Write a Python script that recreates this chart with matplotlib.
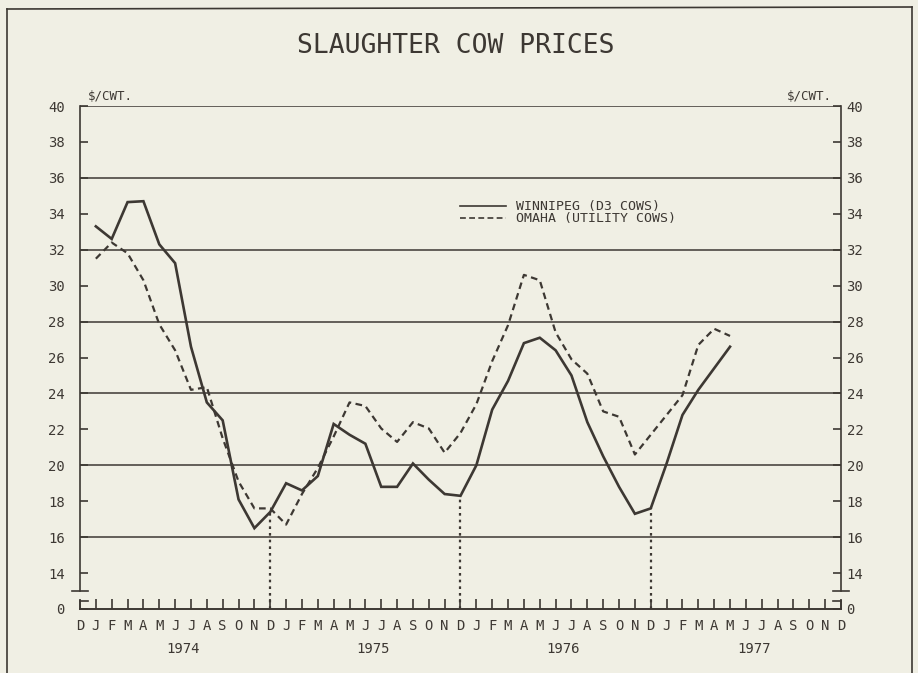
import numpy as np
import matplotlib.pyplot as plt
from matplotlib.lines import Line2D

# months from Dec 1973 (index 0) to Dec 1977 (index 48)
month_labels = list("D" + "JFMAMJJASOND" * 4)
years = ["1974", "1975", "1976", "1977"]

# both series start Jan 1974 (index 1) and end May 1977 (index 41)
winnipeg = [33.3, 32.6, 34.65, 34.7, 32.3, 31.25, 26.6, 23.5, 22.5, 18.1, 16.5, 17.4,
            19.0, 18.6, 19.4, 22.3, 21.7, 21.2, 18.8, 18.8, 20.1, 19.2, 18.4, 18.3,
            20.0, 23.1, 24.7, 26.8, 27.1, 26.4, 25.0, 22.4, 20.5, 18.8, 17.3, 17.6,
            20.1, 22.8, 24.2, 25.4, 26.6]
omaha = [31.5, 32.4, 31.8, 30.3, 27.85, 26.4, 24.2, 24.35, 21.5, 19.1, 17.6, 17.6,
         16.7, 18.4, 19.85, 21.6, 23.5, 23.3, 22.05, 21.3, 22.4, 22.05, 20.7, 21.8,
         23.4, 25.8, 27.8, 30.6, 30.3, 27.4, 25.9, 25.1, 23.0, 22.7, 20.6, 21.7,
         22.8, 23.9, 26.7, 27.6, 27.2]
months = np.arange(1, len(winnipeg) + 1)

ytick_vals = list(range(12, 41, 2))
ytick_labels = ["0"] + [str(v) for v in range(14, 41, 2)]
grid_vals = [16, 20, 24, 28, 32, 36, 40]
dec_marks = [12, 24, 36]

ink = "#3d3833"
bg = "#f0efe4"
font = "DejaVu Sans Mono"

fig = plt.figure(figsize=(9.18, 6.73), dpi=100, facecolor=bg)
ax = fig.add_axes([80 / 918, 1 - 609 / 673, 761 / 918, 503 / 673])
ax.set_facecolor(bg)
ax.set_xlim(0, 48)
ax.set_ylim(12, 40)

for g in grid_vals:
    ax.axhline(g, color=ink, lw=1.1, zorder=1)

ax.plot(months, winnipeg, color=ink, lw=1.9, zorder=3, solid_joinstyle="miter")
ax.plot(months, omaha, color=ink, lw=1.6, ls=(0, (3, 2)), zorder=3)

# dotted drop lines at each December
for d in dec_marks:
    ax.vlines(d, 12, winnipeg[d - 1], color=ink, lw=1.6, ls=(0, (1.2, 1.8)), zorder=2)

# axes with break marks
for side in ["left", "right", "top"]:
    ax.spines[side].set_visible(False)
ax.spines["bottom"].set_color(ink)
ax.spines["bottom"].set_linewidth(1.4)
for xs in [0, 48]:
    ax.plot([xs, xs], [13, 40], color=ink, lw=1.2, clip_on=False)
    ax.plot([xs - 0.5, xs + 0.5], [13, 13], color=ink, lw=1.2, clip_on=False)
    ax.plot([xs, xs], [12, 12.45], color=ink, lw=1.2, clip_on=False)
sgn = {0: 1, 48: -1}
for xs, s in sgn.items():
    ax.plot([xs, xs + 0.5 * s], [12.45, 12.45], color=ink, lw=1.2, clip_on=False)

ax.set_xticks(range(49))
ax.set_xticklabels(month_labels, fontfamily=font, fontsize=10, color=ink)
ax.tick_params(axis="x", direction="in", length=7, width=1.2, color=ink, pad=7)

ax.set_yticks(ytick_vals)
ax.set_yticklabels(ytick_labels, fontfamily=font, fontsize=10, color=ink)
ax.tick_params(axis="y", direction="in", length=6, width=1.2, color=ink, pad=11)

ax2 = ax.twinx()
ax2.set_ylim(12, 40)
ax2.set_yticks(ytick_vals)
ax2.set_yticklabels(ytick_labels, fontfamily=font, fontsize=10, color=ink)
ax2.tick_params(axis="y", direction="in", length=6, width=1.2, color=ink, pad=4)
for side in ["left", "right", "top", "bottom"]:
    ax2.spines[side].set_visible(False)

# year labels under the months
for k, yr in enumerate(years):
    ax.text(6.5 + 12 * k, -0.08, yr, transform=ax.get_xaxis_transform(),
            ha="center", va="center", fontfamily=font, fontsize=10, color=ink)

ax.text(0.011, 1.006, "$/CWT.", transform=ax.transAxes, ha="left", va="bottom",
        fontfamily=font, fontsize=9, color=ink)
ax.text(0.988, 1.006, "$/CWT.", transform=ax.transAxes, ha="right", va="bottom",
        fontfamily=font, fontsize=9, color=ink)

# legend drawn like the plotter did
ax.plot([24.0, 26.9], [34.42, 34.42], color=ink, lw=1.2)
ax.plot([24.0, 26.9], [33.75, 33.75], color=ink, lw=1.2, ls=(0, (3.5, 2)))
ax.text(27.5, 34.42, "WINNIPEG (D3 COWS)", ha="left", va="center",
        fontfamily=font, fontsize=9.5, color=ink)
ax.text(27.5, 33.75, "OMAHA (UTILITY COWS)", ha="left", va="center",
        fontfamily=font, fontsize=9.5, color=ink)

fig.text(456 / 918, 1 - 46 / 673, "SLAUGHTER COW PRICES", ha="center", va="center",
         fontfamily=font, fontsize=19, color=ink)

# page frame
fw, fh = 918, 673
frame = [((7, 7), (9, 680)), ((7, 912), (9, 7)), ((912, 912), (7, 680))]
for xs, ys in frame:
    fig.add_artist(Line2D([x / fw for x in xs], [1 - y / fh for y in ys],
                          color=ink, lw=1.2))

fig.savefig("out.png", dpi=100, facecolor=bg)
